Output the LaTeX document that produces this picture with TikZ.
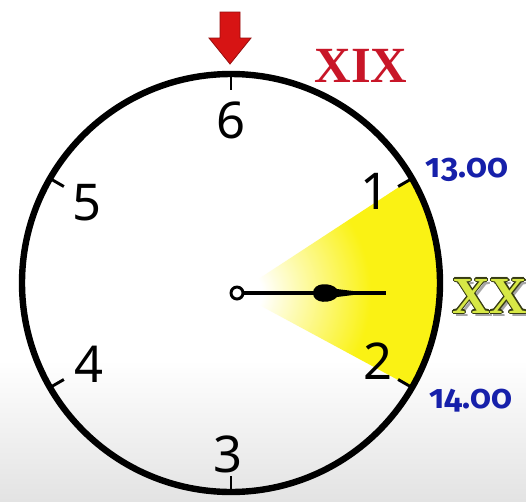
\documentclass[tikz,border=0pt]{standalone}
\usepackage{fontspec}
\setmainfont{Liberation Serif}
\newfontfamily\numfont{Noto Sans}
\newfontfamily\timefont[Numbers=OldStyle]{Fira Sans}
\usetikzlibrary{calc}
\definecolor{xixred}{RGB}{200,22,40}
\definecolor{arrowred}{RGB}{215,20,20}
\definecolor{timeblue}{RGB}{22,32,170}
\definecolor{clockyellow}{RGB}{250,242,20}
\definecolor{xxfill}{RGB}{215,232,70}
\definecolor{xxline}{RGB}{55,60,20}
\pgfdeclareradialshading{sectorshade}{\pgfpoint{0bp}{0bp}}{color(0bp)=(white); color(3bp)=(white); color(16bp)=(clockyellow); color(50bp)=(clockyellow)}
\tikzset{
  digit/.style={font=\numfont\fontsize{38}{38}\selectfont, inner sep=0pt},
  timelabel/.style={font=\timefont\bfseries\fontsize{25}{25}\selectfont, text=timeblue, inner sep=0pt},
  ticker/.style={line width=2.2pt},
  xxtext/.style={font=\bfseries\fontsize{39}{39}\selectfont, inner sep=0pt, anchor=west}
}
\begin{document}
\begin{tikzpicture}[x=0.75pt,y=-0.75pt]
\useasboundingbox (0,0) rectangle (526,501);
\clip (0,0) rectangle (526,501);
\fill[white] (0,0) rectangle (526,501);
\shade[top color=white, bottom color=black!11] (0,360) rectangle (526,501);
\coordinate (c) at (231,283);
\coordinate (h) at (237,293);
% yellow sector
\begin{scope}
  \clip (h) -- ([shift={(-30:209)}]c) arc[start angle=-30, end angle=30, radius=209] -- cycle;
  \shade[shading=sectorshade] (h) circle[radius=209];
\end{scope}
% dial
\draw[line width=4.8pt] (c) circle[radius=209];
\foreach \a in {30,90,150,210,270,330}
  \draw[ticker] ([shift={(\a:209)}]c) -- ([shift={(\a:193)}]c);
% numbers
\node[digit] (n6) at (231,120) {6};
\node[digit] (n5) at (87,203) {5};
\node[digit] (n4) at (89,364) {4};
\node[digit] (n3) at (228,454) {3};
\node[digit] (n2) at (378,361) {2};
\node[digit] (n1) at (375,191) {1};
% hand
\node[circle, draw, fill=white, line width=2.2pt, minimum size=9pt, inner sep=0pt] (hub) at (h) {};
\coordinate (handend) at (386,293);
\draw[line width=3pt] (hub.east) -- (handend);
\fill (313,293) .. controls (313,282) and (331,282) .. (337,289) -- (357,291.5) -- (357,294.5) -- (337,297) .. controls (331,304) and (313,304) .. (313,293) -- cycle;
% arrow
\fill[arrowred, draw=arrowred!70!black, line width=0.6pt] (220,12) -- (240,12) -- (240,38) -- (251,38) -- (230,64) -- (209,38) -- (220,38) -- cycle;
% labels
\node[font=\bfseries\fontsize{38}{38}\selectfont, text=xixred, inner sep=0pt] (xix) at (361,66) {XIX};
\node[timelabel] (t13) at (467,170) {13.00};
\node[timelabel] (t14) at (471,401) {14.00};
\node[xxtext, text=black!35] (xxs) at (455,299) {XX};
\foreach \dx/\dy in {-1.2/0,1.2/0,0/-1.2,0/1.2,-0.9/-0.9,0.9/0.9,-0.9/0.9,0.9/-0.9}
  \node[xxtext, text=xxline] at ($(452,296)+(\dx,\dy)$) {XX};
\node[xxtext, text=xxfill] (xx) at (452,296) {XX};
\end{tikzpicture}
\end{document}
